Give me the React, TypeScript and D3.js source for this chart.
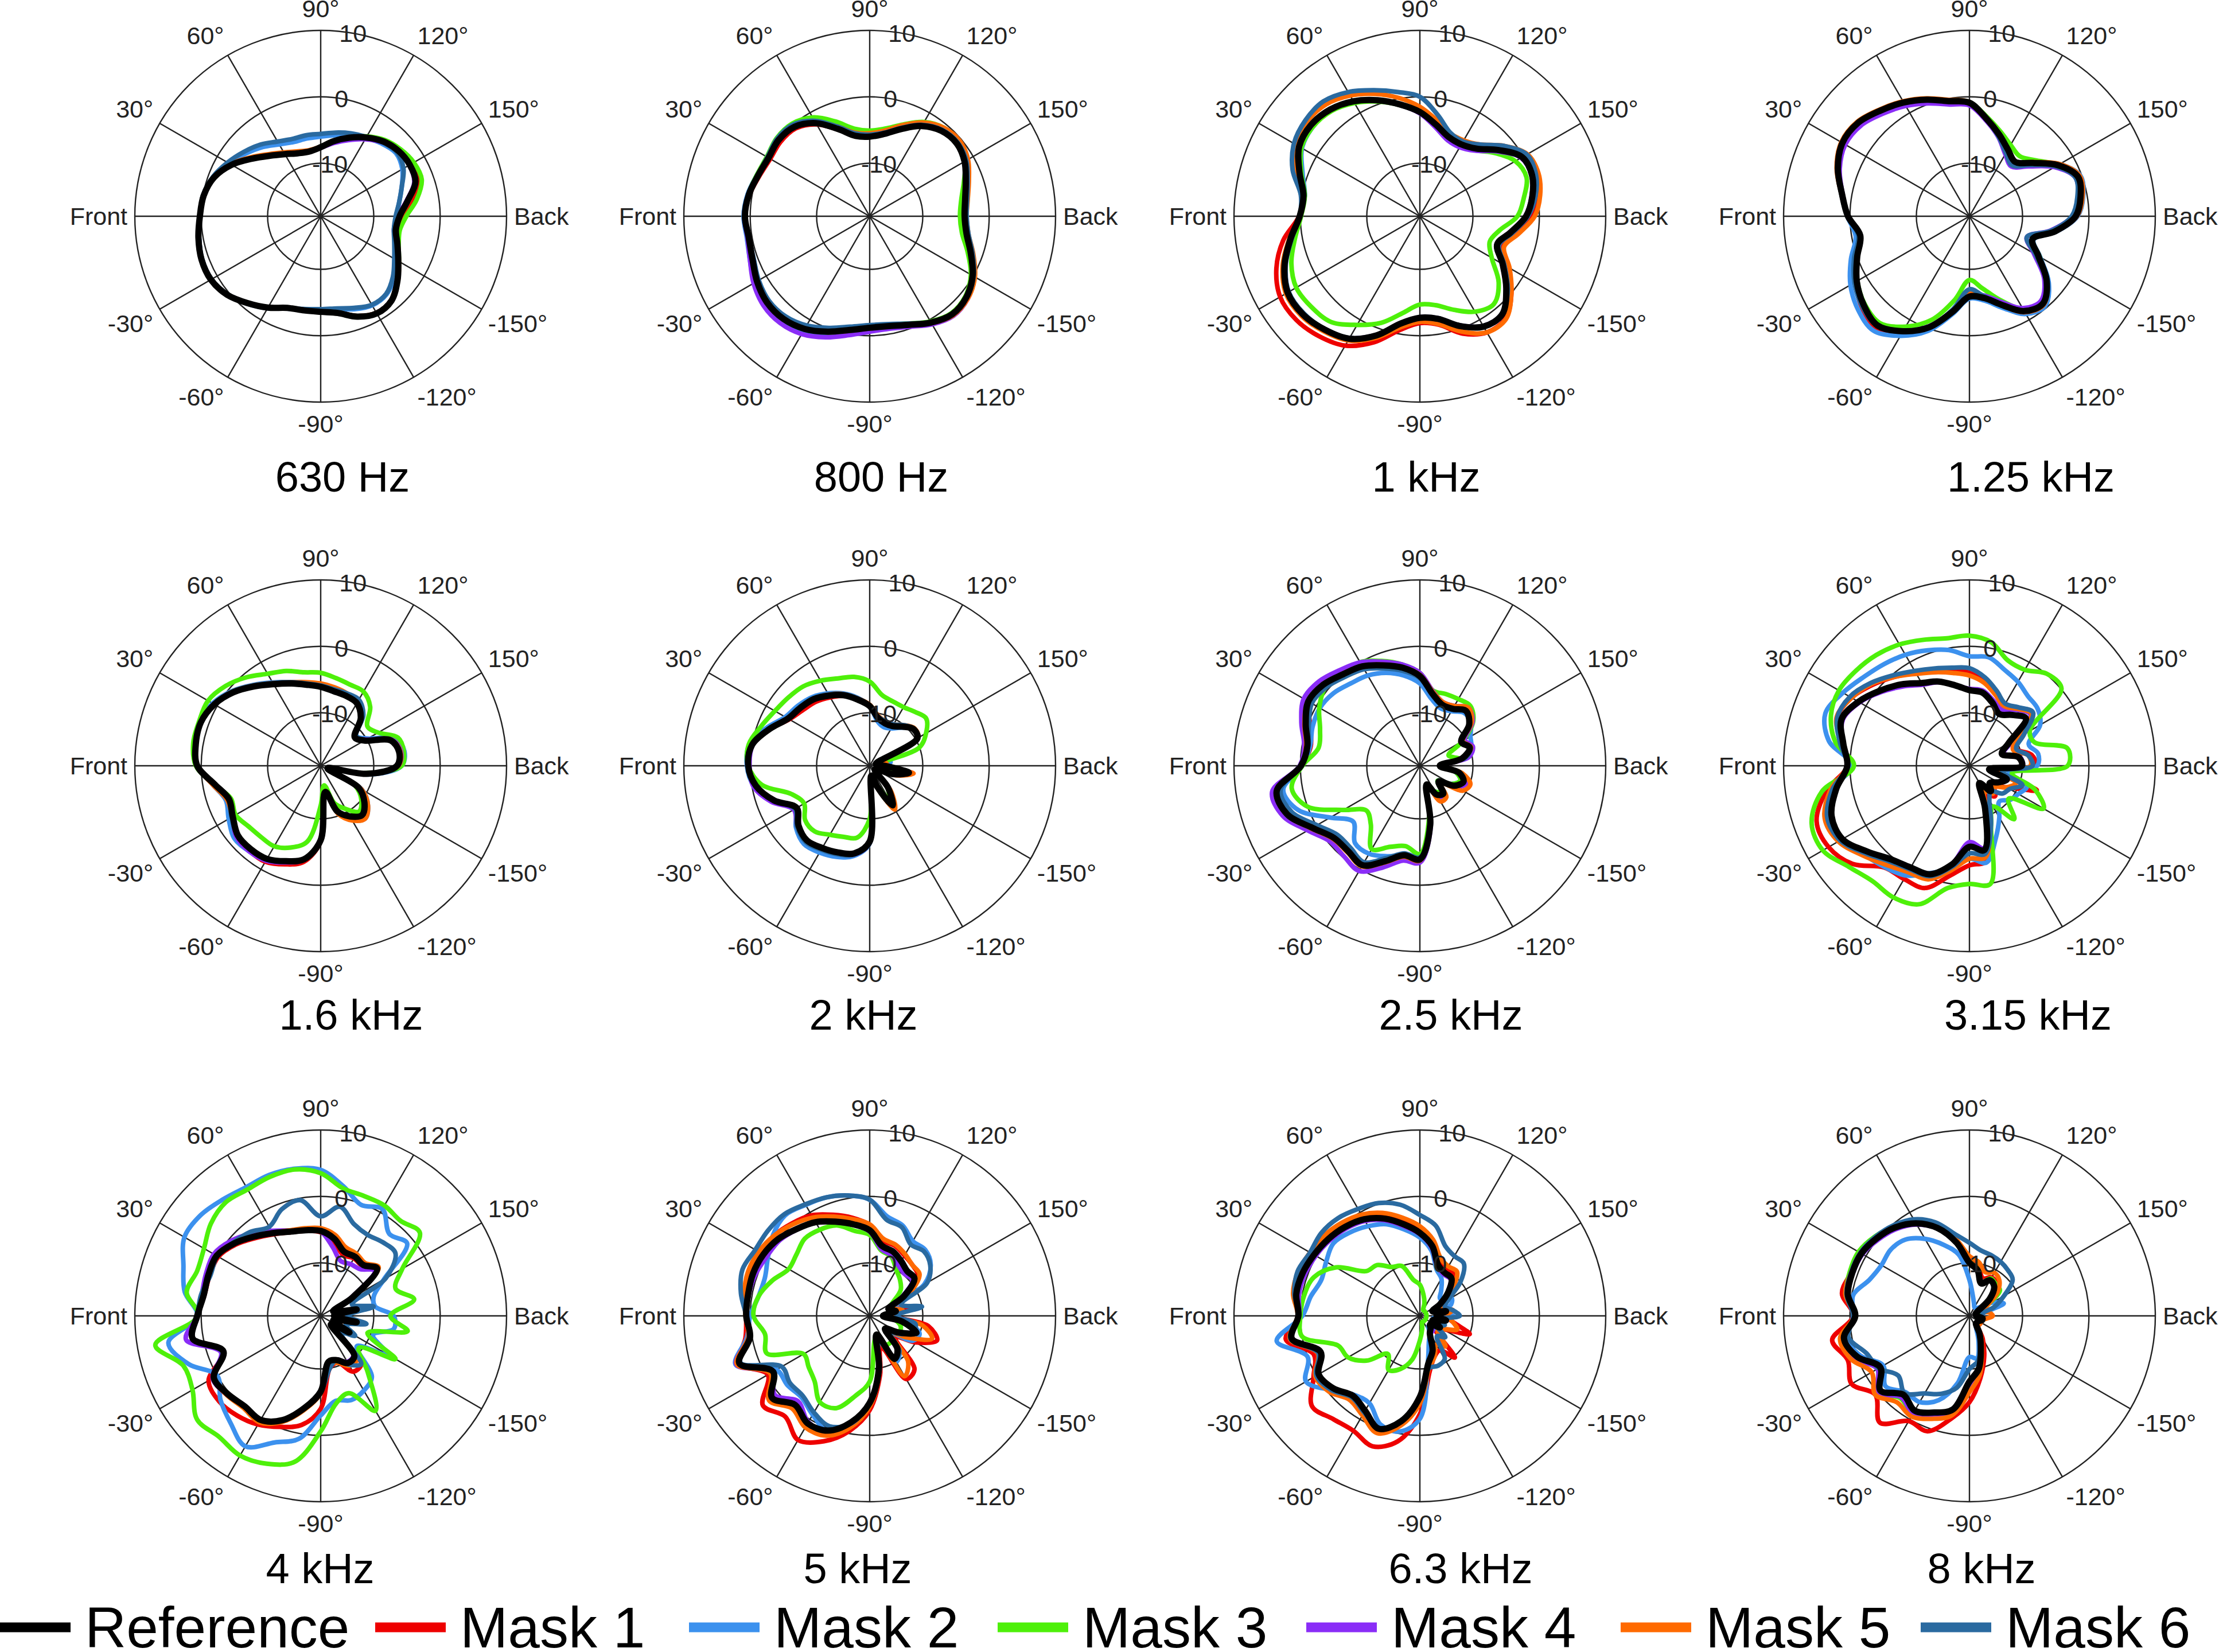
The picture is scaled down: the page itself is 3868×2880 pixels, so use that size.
import * as d3 from "d3";

// ---- layout (px) ----
const W = 3868;
const H = 2880;
const R = 324;
const colX = [559, 1516, 2475, 3433];
const rowY = [377, 1335, 2294];
const titleX = [597, 1536, 2486, 3540, 612, 1505, 2529, 3535, 558, 1495, 2546, 3454];
const titleY = [831, 1769, 2734];
const FONT = "'Liberation Sans', Arial, Helvetica, sans-serif";

// ---- axes ----
const angles = [
  0, 10, 20, 30, 40, 50, 60, 70, 80, 90, 100, 110, 120, 130, 140, 150, 160, 170,
  180, 190, 200, 210, 220, 230, 240, 250, 260, 270, 280, 290, 300, 310, 320, 330, 340, 350,
];
const spokeAngles = [0, 30, 60, 90, 120, 150];
const tickAngles = [0, 30, 60, 90, 120, 150, 180, 210, 240, 270, 300, 330];
const tickLabels = ["Front", "30°", "60°", "90°", "120°", "150°", "Back", "-150°", "-120°", "-90°", "-60°", "-30°"];
const ringValues = [-10, 0, 10];
const ringLabelAngle = 100;
const radialDomain = [-18, 10];

const titles = [
  "630 Hz", "800 Hz", "1 kHz", "1.25 kHz",
  "1.6 kHz", "2 kHz", "2.5 kHz", "3.15 kHz",
  "4 kHz", "5 kHz", "6.3 kHz", "8 kHz",
];
const seriesNames = ["Reference", "Mask 1", "Mask 2", "Mask 3", "Mask 4", "Mask 5", "Mask 6"];
const seriesColors = ["#000000", "#ee0000", "#3c91ee", "#4ef00a", "#8a2df7", "#ff6a00", "#2a6aa0"];
const legendX = [0, 654, 1201, 1739, 2277, 2825, 3348];

// ---- data, dB at angles[] ----
const ref630 = [0.2,-0.1,-0.9,-2.5,-4.5,-6.1, -7.2,-7.9,-8.1,-7.6,-6.5,-5.4, -4.3,-3.3,-2.7,-2.5,-2.8,-4.7, -6.1,-6.5,-5.7,-4.5,-2.9,-1.4, -1.1,-1.9,-3.2,-3.6,-3.6,-3.3, -2.1,-0.9,0.4,1.1,1.1,0.7];
const m1_630 = [0.2,-0.1,-0.9,-2.5,-4.4,-6.0, -7.1,-7.8,-8.0,-7.6,-6.5,-5.4, -4.2,-3.2,-2.5,-2.1,-2.3,-4.0, -5.6,-6.2,-5.6,-4.5,-2.9,-1.5, -1.2,-2.0,-3.3,-3.7,-3.6,-3.3, -2.1,-0.9,0.4,1.1,1.1,0.7];
const m2_630 = [0.2,0.0,-0.8,-2.0,-3.3,-4.4, -5.5,-6.1,-6.1,-6.0,-5.6,-5.0, -4.4,-3.7,-3.2,-3.8,-5.0,-6.0, -6.6,-6.7,-6.0,-5.0,-3.6,-2.6, -2.5,-3.1,-3.8,-3.9,-3.7,-3.2, -2.0,-0.8,0.4,1.0,1.0,0.6];
const m3_630 = [0.2,-0.1,-0.8,-2.4,-4.4,-6.0, -7.1,-7.8,-8.0,-7.5,-6.4,-5.3, -4.1,-3.0,-2.3,-1.8,-1.8,-3.3, -5.1,-5.9,-5.5,-4.4,-2.9,-1.5, -1.2,-2.0,-3.3,-3.7,-3.6,-3.3, -2.1,-0.9,0.4,1.1,1.1,0.7];
const m4_630 = [0.2,-0.1,-0.9,-2.5,-4.5,-6.1, -7.2,-7.9,-8.1,-7.7,-6.8,-5.8, -4.6,-3.5,-2.8,-2.6,-3.0,-4.9, -6.4,-6.8,-5.9,-4.6,-3.0,-1.5, -1.2,-2.0,-3.3,-3.7,-3.6,-3.3, -2.1,-0.9,0.4,1.1,1.1,0.7];
const m5_630 = [0.2,-0.1,-0.8,-2.3,-4.2,-5.8, -6.9,-7.6,-7.9,-7.5,-6.5,-5.4, -4.3,-3.3,-2.7,-2.5,-2.7,-4.5, -5.9,-6.4,-5.6,-4.4,-2.8,-1.4, -1.2,-2.0,-3.3,-3.7,-3.6,-3.3, -2.1,-0.9,0.4,1.1,1.1,0.7];
const m6_630 = [0.2,0.0,-0.7,-1.8,-2.9,-3.9, -5.0,-5.6,-5.6,-5.6,-5.2,-4.7, -4.2,-3.5,-3.0,-3.6,-5.0,-6.0, -6.7,-6.8,-6.2,-5.2,-3.8,-2.7, -2.6,-3.3,-3.9,-4.0,-3.8,-3.3, -2.1,-0.9,0.3,1.0,1.0,0.6];

const ref800 = [0.8,0.5,-0.1,-0.4,-0.1,-0.4, -1.8,-4.0,-5.7,-6.0,-5.4,-4.0, -2.3,-1.2,-0.9,-1.5,-2.6,-3.4, -3.7,-3.2,-1.8,-0.1,1.0,1.3, 0.5,-0.6,-1.2,-1.2,-0.6,0.5, 1.6,2.2,2.2,1.6,0.8,0.5];
const m1_800 = [0.8,0.4,-0.3,-0.7,-0.5,-0.7, -2.0,-4.1,-5.7,-6.0,-5.4,-4.0, -2.3,-1.2,-0.9,-1.4,-2.4,-3.2, -3.5,-3.0,-1.6,0.0,1.1,1.4, 0.6,-0.5,-1.1,-1.1,-0.5,0.6, 1.7,2.3,2.3,1.7,0.9,0.5];
const m2_800 = [1.0,0.7,0.1,-0.2,0.0,-0.3, -1.7,-3.9,-5.6,-5.9,-5.3,-3.9, -2.2,-1.1,-0.8,-1.4,-2.5,-3.3, -3.6,-3.1,-1.7,0.0,1.0,1.2, 0.4,-0.7,-1.2,-1.1,-0.3,0.9, 2.1,2.7,2.7,2.1,1.2,0.8];
const m3_800 = [0.8,0.6,0.1,-0.1,0.3,0.2, -0.8,-2.8,-4.6,-5.1,-4.6,-3.3, -1.6,-0.6,-0.5,-1.4,-2.9,-4.0, -4.4,-3.9,-2.3,-0.4,0.8,1.1, 0.3,-0.8,-1.4,-1.4,-0.8,0.3, 1.4,2.0,2.0,1.5,0.8,0.5];
const m4_800 = [0.9,0.6,0.0,-0.3,0.1,-0.2, -1.6,-3.9,-5.6,-5.9,-5.3,-3.9, -2.2,-1.1,-0.8,-1.4,-2.5,-3.3, -3.6,-3.0,-1.5,0.2,1.3,1.6, 0.8,-0.3,-0.8,-0.6,0.2,1.4, 2.5,3.0,2.9,2.2,1.2,0.7];
const m5_800 = [0.8,0.5,-0.1,-0.3,0.1,-0.2, -1.5,-3.6,-5.2,-5.5,-4.9,-3.4, -1.7,-0.6,-0.3,-0.9,-2.1,-3.0, -3.4,-2.9,-1.4,0.3,1.3,1.5, 0.6,-0.5,-1.1,-1.1,-0.5,0.6, 1.6,2.2,2.2,1.6,0.8,0.5];
const m6_800 = [0.9,0.6,0.0,-0.2,0.2,0.0, -1.4,-3.6,-5.3,-5.7,-5.2,-3.8, -2.1,-1.0,-0.7,-1.2,-2.3,-3.1, -3.4,-2.9,-1.5,0.1,1.1,1.3, 0.4,-0.8,-1.5,-1.6,-1.1,-0.1, 1.0,1.7,1.8,1.3,0.6,0.5];

const ref1000 = [0.1,-0.2,1.3,3.0,3.4,3.0, 2.0,0.6,-0.9,-2.3,-4.0,-5.3, -5.5,-4.7,-2.5,-0.2,0.0,-0.8, -2.0,-4.1,-5.6,-3.6,-1.0,1.3, 1.2,-0.4,-2.3,-2.7,-1.6,1.1, 3.3,4.3,5.0,5.0,3.7,1.8];
const m1_1000 = [0.2,-0.2,1.2,2.9,3.3,2.9, 1.9,0.5,-1.0,-2.4,-4.0,-5.2, -5.4,-4.5,-2.3,0.1,0.5,-0.1, -1.2,-3.3,-4.8,-2.7,0.0,2.1, 2.2,0.8,-1.4,-1.9,-0.6,2.2, 4.5,5.6,6.3,6.3,5.0,2.9];
const m2_1000 = [0.1,-0.4,0.8,2.5,3.0,2.8, 1.8,0.5,-1.0,-2.4,-4.1,-5.4, -5.6,-4.8,-2.6,-0.3,-0.1,-0.9, -2.1,-4.2,-5.7,-3.7,-1.1,1.2, 1.1,-0.5,-2.4,-2.8,-1.7,1.0, 3.2,4.2,4.9,4.9,3.6,1.7];
const m3_1000 = [-0.1,-0.4,1.0,2.6,3.0,2.7, 1.7,0.4,-1.0,-2.4,-4.0,-5.3, -5.6,-5.0,-3.2,-1.4,-0.9,-2.1, -3.3,-5.8,-6.8,-5.5,-2.5,-0.7, -1.4,-3.0,-4.4,-4.7,-3.2,-0.9, 0.9,2.8,3.3,3.5,2.6,1.1];
const m4_1000 = [0.1,-0.2,1.2,2.9,3.3,3.0, 2.0,0.6,-1.0,-2.5,-4.4,-5.8, -6.0,-5.1,-2.8,-0.4,-0.1,-0.9, -2.1,-4.2,-5.7,-3.7,-1.1,1.2, 1.1,-0.5,-2.4,-2.8,-1.7,1.0, 3.2,4.3,4.9,4.9,3.6,1.7];
const m5_1000 = [0.1,0.0,1.9,3.7,4.2,4.0, 3.0,1.6,0.1,-1.5,-3.3,-4.7, -4.8,-3.9,-1.5,0.7,1.0,0.4, -0.7,-2.9,-4.5,-2.4,0.0,2.2, 2.2,0.5,-1.5,-2.1,-1.0,1.5, 3.6,4.6,5.3,5.3,4.0,2.0];
const m6_1000 = [0.1,0.2,2.4,3.9,4.5,4.6, 3.6,2.2,1.0,0.0,-2.5,-4.6, -5.0,-3.9,-1.5,0.6,0.6,-0.3, -1.7,-3.8,-5.3,-3.3,-0.7,1.3, 1.2,-0.4,-2.2,-2.6,-1.6,1.1, 3.2,4.2,4.8,4.8,3.5,1.6];

const ref1250 = [0.3,1.5,3.1,4.1,3.9,2.8, 1.8,0.7,-0.4,-0.9,-3.1,-4.9, -6.4,-7.3,-5.5,-2.6,-0.6,-1.0, -2.0,-4.9,-7.9,-6.0,-2.8,-0.8, -1.5,-3.8,-5.5,-5.9,-3.4,-0.2, 2.0,3.5,2.8,1.6,0.0,-1.3];
const m1_1250 = [0.3,1.5,3.1,4.1,3.9,2.8, 1.8,0.7,-0.4,-0.9,-3.1,-4.9, -6.4,-7.3,-5.5,-2.6,-0.6,-1.0, -2.0,-4.9,-7.8,-5.9,-2.7,-0.7, -1.4,-3.7,-5.4,-5.8,-3.2,0.1, 2.4,3.9,3.2,1.8,0.1,-1.3];
const m2_1250 = [0.4,1.6,3.2,4.1,3.9,2.8, 1.8,0.7,-0.4,-0.9,-3.0,-4.8, -6.3,-7.2,-5.3,-2.3,-0.2,-0.6, -1.7,-4.7,-7.7,-5.7,-2.4,-0.3, -1.0,-3.3,-5.1,-5.6,-3.0,0.4, 2.8,4.5,3.9,2.7,1.0,-0.6];
const m3_1250 = [0.3,1.5,3.1,4.1,3.9,2.8, 1.8,0.7,-0.3,-0.8,-2.8,-4.4, -5.6,-6.2,-4.9,-2.5,-0.6,-1.1, -2.1,-5.0,-7.8,-5.8,-2.8,-1.0, -1.9,-4.6,-7.0,-8.4,-5.2,-1.4, 1.2,3.0,2.6,1.5,0.0,-1.2];
const m4_1250 = [0.3,1.4,2.8,3.6,3.3,2.2, 1.2,0.1,-0.9,-1.3,-3.4,-5.3, -7.2,-8.2,-6.3,-3.2,-1.0,-1.4, -2.5,-5.6,-8.8,-6.8,-3.3,-1.3, -2.0,-4.3,-5.9,-6.2,-3.6,-0.4, 1.9,3.4,2.8,1.6,0.0,-1.3];
const m5_1250 = [0.3,1.6,3.3,4.3,4.1,3.0, 2.0,0.9,-0.2,-0.8,-3.0,-4.8, -6.3,-7.2,-5.3,-2.3,-0.3,-0.7, -1.8,-4.8,-7.8,-5.9,-2.7,-0.6, -1.3,-3.7,-5.6,-6.5,-3.6,-0.2, 2.0,3.5,2.8,1.6,0.0,-1.3];
const m6_1250 = [0.4,1.6,3.2,4.1,3.9,2.8, 1.8,0.7,-0.4,-0.9,-3.2,-5.2, -7.0,-8.0,-6.0,-3.0,-1.0,-1.5, -2.6,-5.5,-8.8,-6.5,-3.0,-0.9, -1.6,-3.9,-5.8,-7.0,-3.8,-0.2, 2.1,3.6,3.1,2.0,0.5,-1.0];

const ref1600 = [0.6,1.1,1.2,0.5,-0.8,-2.4, -3.8,-4.8,-5.6,-6.1,-6.6,-6.8, -7.1,-8.6,-11.3,-10.4,-6.8,-6.0, -6.5,-11.0,-16.9,-11.4,-9.4,-8.3, -9.2,-10.7,-14.0,-6.8,-3.7,-2.7, -1.8,-1.6,-1.7,-2.7,-3.3,-1.8];
const m1_1600 = [0.6,1.1,1.2,0.5,-0.8,-2.4, -3.8,-4.8,-5.6,-6.1,-6.6,-6.8, -7.1,-8.6,-11.3,-10.4,-6.8,-6.0, -6.5,-11.0,-16.9,-11.4,-9.4,-8.3, -9.2,-10.7,-14.0,-6.6,-3.3,-2.2, -1.3,-1.3,-1.6,-2.7,-3.3,-1.8];
const m2_1600 = [0.7,1.3,1.4,0.8,-0.5,-2.1, -3.5,-4.6,-5.4,-5.9,-6.4,-6.6, -6.8,-8.3,-11.0,-9.8,-6.0,-5.2, -5.8,-10.5,-16.5,-10.8,-8.7,-7.6, -8.6,-10.4,-14.0,-6.8,-3.7,-2.6, -1.6,-1.2,-1.0,-2.0,-2.8,-1.5];
const m3_1600 = [0.8,1.5,1.5,1.6,0.7,-0.6, -2.0,-2.8,-3.7,-4.0,-4.6,-5.0, -5.1,-6.4,-8.8,-8.0,-5.6,-5.3, -5.8,-11.5,-17.0,-12.0,-10.0,-9.0, -10.5,-12.0,-15.0,-12.0,-6.4,-4.9, -4.0,-4.0,-3.8,-3.2,-3.6,-1.7];
const m4_1600 = [0.6,1.1,1.3,0.6,-0.7,-2.3, -3.7,-4.7,-5.5,-6.0,-6.5,-6.7, -7.0,-8.5,-11.2,-10.1,-6.5,-5.7, -6.3,-10.9,-16.9,-11.2,-9.1,-8.0, -9.0,-10.6,-14.0,-6.8,-3.6,-2.5, -1.5,-1.2,-1.4,-2.6,-3.3,-1.8];
const m5_1600 = [0.6,1.1,1.2,0.6,-0.6,-2.2, -3.6,-4.6,-5.2,-5.6,-6.0,-6.4, -6.9,-8.5,-11.3,-10.3,-6.6,-5.8, -6.3,-10.8,-16.5,-10.9,-8.7,-7.6, -8.5,-10.3,-14.0,-6.8,-3.7,-2.7, -1.8,-1.6,-1.7,-2.6,-3.0,-1.5];
const m6_1600 = [0.6,1.2,1.3,0.6,-0.6,-2.2, -3.6,-4.6,-5.4,-5.9,-6.3,-6.4, -6.5,-8.0,-11.0,-10.2,-6.6,-5.9, -6.4,-11.0,-16.8,-11.2,-9.3,-8.2, -9.1,-10.6,-14.0,-6.8,-3.7,-2.7, -1.8,-1.6,-1.6,-2.5,-3.2,-1.8];

const ref2000 = [0.3,0.0,-1.9,-3.8,-4.4,-4.9, -5.8,-6.7,-7.9,-9.0,-10.7,-11.2, -11.1,-10.3,-9.4,-9.7,-17,-17, -15.8,-12,-14.3,-17,-17,-13.7, -11.1,-14.6,-16.5,-6.6,-4.6,-4.1, -3.7,-3.3,-4.0,-5.3,-2.7,-0.6];
const m1_2000 = [0.3,0.0,-1.9,-4.0,-4.9,-5.4, -6.1,-6.8,-7.9,-9.0,-10.7,-11.2, -11.1,-10.3,-9.4,-9.7,-17,-17, -15.8,-12,-14.3,-17,-17,-13.7, -11.1,-14.6,-16.5,-6.6,-4.5,-4.0, -3.6,-3.2,-4.0,-5.3,-2.7,-0.6];
const m2_2000 = [0.5,0.4,-1.4,-3.3,-3.9,-4.5, -5.4,-6.4,-7.6,-9.0,-11.2,-11.8, -11.5,-10.5,-9.4,-9.8,-17,-14.8, -15.5,-11.5,-14,-17,-17,-13.3, -10.7,-14.3,-16.5,-6.3,-4.2,-3.4, -2.9,-2.6,-3.5,-5.0,-2.5,-0.3];
const m3_2000 = [0.3,0.5,-0.6,-1.5,-2.0,-2.4, -3.2,-4.0,-4.4,-5.3,-7.2,-7.7, -7.8,-7.4,-6.9,-8.2,-10.1,-17, -16,-13,-15,-17,-17,-14, -12,-15,-16.5,-10,-7.0,-6.6, -6.0,-5.1,-5.3,-6.6,-5.5,-1.5];
const m4_2000 = [0.1,-0.1,-1.9,-3.8,-4.4,-4.9, -5.8,-6.7,-7.9,-9.0,-10.6,-11.1, -11.0,-10.2,-9.4,-9.8,-17,-17, -15.8,-12.3,-14.5,-17,-17,-13.5, -10.9,-14.5,-16.5,-6.4,-4.4,-3.9, -3.6,-3.1,-3.7,-4.8,-2.2,-0.2];
const m5_2000 = [0.3,0.0,-1.8,-3.7,-4.3,-4.8, -5.6,-6.5,-7.7,-8.8,-10.4,-10.9, -10.8,-10.0,-9.2,-9.6,-17,-15.5, -15.3,-11.3,-13.8,-17,-17,-13.0, -10.4,-14.2,-16.5,-6.6,-4.6,-4.1, -3.7,-3.3,-4.0,-5.3,-2.7,-0.6];
const m6_2000 = [0.3,0.1,-1.7,-3.6,-4.2,-4.7, -5.6,-6.5,-7.7,-8.9,-10.5,-10.9, -10.8,-10.0,-9.3,-9.6,-17,-17, -15.8,-12.0,-14.3,-17,-17,-13.6, -11.0,-14.6,-16.5,-6.5,-4.4,-3.8, -3.4,-3.0,-3.7,-5.0,-2.6,-0.5];

const ref2500 = [-0.1,-0.8,0.3,1.4,1.0,0.0, -0.7,-1.9,-3.0,-4.5,-7.0,-8.2, -8.1,-7.2,-8.3,-10.8,-10.0,-11.5, -15.0,-12.0,-11.0,-12.0,-14.3,-12.5, -13.0,-15.0,-9.0,-3.9,-4.3,-2.7, -0.7,-1.2,-1.1,0.7,3.3,3.9];
const m1_2500 = [-0.1,-1.3,-0.4,1.2,1.0,0.0, -0.7,-1.9,-3.0,-4.6,-7.1,-8.2, -8.1,-7.2,-8.3,-10.8,-10,-11.5, -15,-12,-11,-12,-14.3,-12.5, -13,-15,-8.8,-3.5,-4.0,-2.5, -0.6,-1.1,-1.0,0.8,3.4,4.1];
const m2_2500 = [-0.3,-1.2,-0.8,-0.6,-1.0,-1.8, -2.3,-3.1,-4.2,-5.6,-7.8,-8.8, -8.5,-7.6,-8.0,-9.2,-9.8,-11.5, -15,-12.5,-11.5,-12.5,-14.5,-13, -13.5,-15,-9.5,-4.5,-4.3,-3.5, -2.7,-2.8,-4.9,-2.4,1.5,2.9];
const m3_2500 = [-0.3,-2.5,-2.0,-0.5,0.5,0.0, 0.0,-1.2,-2.5,-4.0,-6.5,-6.5, -6.4,-6.2,-7.5,-10.5,-13.4,-12, -15,-12.5,-11.5,-12.5,-14.5,-13, -13.5,-15,-10,-4.7,-5.7,-5.0, -3.5,-6.5,-7.5,-4.7,0.0,1.6];
const m4_2500 = [0.1,-0.3,1.0,2.2,1.8,0.8, 0.0,-1.3,-2.5,-4.0,-6.6,-7.8, -7.6,-6.6,-7.6,-10.2,-9.5,-10.5, -14.5,-12.0,-10.5,-11.5,-14,-12.2, -12.6,-14.8,-8.6,-3.4,-3.5,-1.7, 0.3,-0.2,-0.3,1.5,4.0,4.6];
const m5_2500 = [-0.1,-0.6,0.5,1.5,1.1,0.1, -0.6,-1.8,-2.9,-4.3,-6.7,-7.8, -7.6,-6.6,-7.8,-10.5,-9.8,-11.2, -14.5,-11.5,-9.9,-10.5,-14,-11.8, -11.8,-14.8,-8.8,-3.7,-4.1,-2.5, -0.5,-1.0,-0.9,0.9,3.4,4.0];
const m6_2500 = [-0.1,-0.9,-0.2,0.8,0.4,-0.5, -1.2,-2.4,-3.5,-4.8,-7.2,-8.3, -8.2,-7.3,-8.3,-10.6,-9.9,-11, -15,-11.8,-11,-12,-14.3,-12.5, -13,-15,-9.2,-4.2,-4.6,-3.2, -1.2,-1.8,-1.8,-0.1,2.5,3.3];

const ref3150 = [0.4,1.3,2.5,1.3,-0.4,-2.0, -3.6,-4.5,-5.7,-6.6,-6.8,-7.9, -9.0,-8.0,-6.9,-11.2,-12.8,-10.5, -10.1,-15,-12,-13,-14,-13, -15,-11.1,-5.1,-5.8,-2.9,-0.6, -0.3,0.4,2.1,4.1,4.1,2.4];
const m1_3150 = [0.4,1.5,3.2,2.5,1.0,-0.5, -1.8,-2.6,-3.3,-4.0,-5.2,-6.5, -7.5,-6.7,-5.8,-9.5,-10.5,-8.5, -8.0,-14,-7.2,-11.5,-13,-12, -13,-9,-3.4,-3.0,-1.2,1.6, 1.7,2.0,5.0,6.5,6.5,3.9];
const m2_3150 = [-0.3,3.5,5.1,4.0,2.8,2.0, 1.3,0.5,-0.3,-1.5,-1.4,-2.6, -3.4,-4.3,-4.6,-5.7,-8.5,-7.5, -7.8,-12,-8.8,-9.5,-10,-11, -9,-6.4,-3.2,-4.0,-2.3,-0.8, 1.1,1.9,2.8,4.1,4.5,3.1];
const m3_3150 = [-0.6,2.5,4.2,4.7,4.3,3.8, 3.1,2.2,1.5,1.6,0.9,-1.1, -1.3,0.1,0.1,-7.5,-7.6,-3.0, -3.2,-11.5,-7.5,-5.1,-10.3,-7.5, -10.9,-8.5,0.1,-0.2,0.7,4.2, 4.9,4.7,5.7,7.5,7.3,4.6];
const m4_3150 = [0.4,1.3,2.3,1.1,-0.7,-2.4, -3.9,-4.6,-5.7,-6.4,-6.5,-7.5, -8.2,-7.0,-6.0,-10.5,-12.5,-10.3, -10,-15,-12,-13,-14,-13, -15,-11,-5.4,-6.5,-3.0,-0.6, -0.3,0.4,2.1,4.1,4.3,3.0];
const m5_3150 = [0.4,1.6,3.3,2.5,1.2,-0.5, -2.0,-3.0,-3.8,-4.4,-5.3,-6.6, -7.6,-6.8,-5.8,-9.8,-11,-9.0, -8.8,-14,-10.5,-11.5,-13,-12.5, -13.5,-9.5,-4.0,-4.0,-2.0,0.2, 0.5,1.5,3.0,4.8,5.2,3.3];
const m6_3150 = [0.4,1.8,3.2,2.8,1.4,-0.2, -1.5,-2.4,-3.0,-3.3,-4.5,-6.0, -7.2,-6.5,-5.5,-8.5,-10.5,-9.0, -8.5,-13,-9.5,-11,-11.5,-13, -12,-8.5,-4.5,-4.8,-2.5,-0.3, 0.0,0.8,2.5,4.5,4.8,3.0];

const ref4000 = [0.6,-0.1,0.0,0.1,-1.0,-2.4, -3.6,-4.5,-4.9,-5.2,-6.2,-7.7, -7.7,-8.0,-6.9,-12.5,-16,-12.5, -16,-12.5,-16,-13,-16,-10.1, -9.8,-10.9,-11,-6.6,-3.9,-1.3, 0.1,-0.2,0.3,0.6,-2.4,1.6];
const m1_4000 = [0.6,-0.2,-0.2,-0.2,-1.3,-2.7, -3.8,-4.6,-5.0,-5.4,-6.6,-8.2, -8.0,-8.2,-7.0,-12,-15.5,-12, -15.5,-12,-15.5,-12.5,-15.5,-8.5, -8.3,-10.5,-10,-4.0,-1.3,-0.2, 0.9,1.6,2.0,1.5,-2.4,1.5];
const m2_4000 = [0.6,2.8,4.0,5.7,5.6,4.9, 4.4,4.6,4.5,4.0,1.8,-0.2, 0.6,-1.9,-1.0,-7.0,-9.5,-9.7, -7.0,-6.8,-9.6,-6.3,-10.9,-6.0, -5.0,-4.5,-5.0,-3.0,0.8,2.3, 4.7,3.1,1.7,0.0,3.2,5.3];
const m3_4000 = [0.5,2.5,1.8,2.3,3.6,4.3, 4.0,4.3,4.4,3.5,1.5,1.2, 1.2,0.7,1.5,-3.8,-6.0,-3.7, -7.5,-4.7,-10.5,-5.0,-10.5,-7.0, -1.5,-5.6,-4.6,-0.6,4.3,5.7, 6.3,5.8,6.3,4.3,4.0,7.3];
const m4_4000 = [0.6,0.2,0.4,0.6,-0.4,-1.8, -3.2,-4.3,-4.8,-5.3,-7.5,-9.2, -9.0,-8.8,-7.4,-13,-16,-13, -16,-13,-16,-13,-16,-10.3, -10,-11,-11,-6.6,-3.9,-1.2, 0.3,0.0,0.5,0.8,-2.0,2.6];
const m5_4000 = [0.6,-0.1,0.0,0.2,-0.9,-2.3, -3.5,-4.3,-4.6,-4.8,-5.6,-7.0, -7.2,-7.6,-6.6,-12,-15.5,-12, -15.5,-12,-15.5,-12.5,-15.5,-9.5, -9.3,-10.5,-10.5,-6.3,-3.6,-1.0, 0.5,0.1,0.5,0.7,-2.3,1.6];
const m6_4000 = [0.6,0.3,-0.3,0.0,-0.8,-1.5, -2.5,-0.9,-0.3,-3.0,-1.3,-3.3, -3.9,-3.5,-3.3,-6.7,-13,-9.9, -14,-11,-14,-12,-14,-8.5, -9.5,-11,-10,-6.5,-3.9,-1.3, 0.1,-0.2,0.3,0.4,-2.2,1.5];

const ref5000 = [0.6,0.6,0.7,0.5,0.0,-0.9, -1.7,-2.9,-4.0,-5.1,-7.3,-7.7, -8.5,-9.2,-9.2,-12,-15,-14, -16,-13,-10.5,-13,-15,-11.5, -10.5,-15,-10,-4.9,-1.7,0.4, 0.7,-0.5,1.2,-1.2,2.9,0.3];
const m1_5000 = [0.6,0.8,1.0,0.9,0.8,0.2, -0.5,-1.8,-3.0,-4.3,-6.5,-6.8, -7.5,-8.0,-8.5,-11,-14,-12, -14,-9,-7.2,-10,-13,-7.5, -7.0,-13,-9,-3.8,-0.4,2.1, 3.6,1.8,3.0,-0.3,3.0,1.0];
const m2_5000 = [0.0,-1.0,-1.2,-0.3,1.0,1.8, 1.3,1.0,0.4,-0.5,-2.8,-3.5, -5.0,-5.0,-6.0,-8.5,-14,-13, -15,-12,-10,-10.5,-14,-11, -10,-14,-9.5,-4.5,-1.5,0.5, -0.8,-2.0,-1.8,-1.8,3.5,0.8];
const m3_5000 = [-0.5,-1.0,-2.4,-3.9,-3.6,-2.8, -3.0,-3.5,-5.0,-5.8,-8.0,-8.5, -10,-10.9,-11.9,-14,-15,-14, -16,-14,-13,-13,-15,-13, -13,-15,-14,-8.1,-5.8,-3.2, -3.0,-5.1,-6.0,-6.5,-1.5,-2.0];
const m4_5000 = [0.6,0.5,0.3,-0.1,-0.3,-1.0, -1.8,-3.0,-4.1,-5.3,-7.8,-8.3, -9.3,-9.8,-9.6,-12.5,-15,-14, -16,-13,-11,-13,-15,-11.5, -10.5,-15,-10,-4.8,-1.5,0.5, 0.5,-1.2,0.6,-0.8,3.4,0.6];
const m5_5000 = [0.7,1.2,1.5,1.3,0.8,0.0, -0.9,-2.1,-3.2,-4.2,-6.2,-6.6, -7.3,-8.0,-8.2,-11,-14.5,-13, -15,-10,-8,-11.5,-14,-9, -7.5,-14,-9.5,-4.3,-0.9,1.2, 1.4,0.2,1.8,-0.7,3.3,0.6];
const m6_5000 = [0.6,1.7,2.4,1.9,2.0,2.0, 1.4,1.0,0.4,-0.5,-3.3,-3.8, -5.6,-5.3,-6.1,-8.0,-13,-10, -14,-11,-11,-12.5,-14,-11, -10.5,-14,-9.5,-5.0,-1.5,-0.3, -1.2,-2.3,-2.3,-2.7,2.7,0.5];

const ref6300 = [0.3,0.9,0.8,0.4,0.0,-0.5, -1.2,-2.4,-4.0,-5.5,-7.3,-9.9, -10.5,-10.6,-12.4,-14.5,-16,-14, -15.5,-14,-16,-14.5,-16,-15.5, -15,-12.4,-10.7,-5.8,-1.9,0.1, -1.5,-2.3,-1.0,-0.4,-2.1,1.6];
const m1_6300 = [0.3,1.2,1.3,0.9,0.5,0.0, -0.6,-1.7,-3.3,-4.8,-6.6,-9.2, -9.8,-10.0,-12,-14,-15,-13, -14,-13,-10,-14,-15,-9.8, -12,-11.5,-9.5,-3.2,1.2,2.9, 2.0,2.3,3.2,0.5,-1.0,2.5];
const m2_6300 = [-0.3,-1.3,-2.2,-1.7,-1.0,-1.6, -2.4,-3.3,-4.8,-6.2,-8.0,-10.6, -11.5,-13,-14,-12.5,-13,-15, -13,-16,-15,-16,-15,-16, -15,-14,-11,-2.5,-0.3,-0.6, -2.8,-2.5,-0.6,1.8,0.0,3.9];
const m3_6300 = [0.0,-0.3,-1.0,-3.4,-7.5,-8.0, -9.5,-10.0,-12.5,-13.3,-14.8,-16, -17,-17,-17,-17,-17,-17, -17,-17,-17,-17,-17,-17, -17,-17,-16,-14.3,-11.3,-9.5, -8.6,-10.5,-7.5,-5.5,-4.9,0.0];
const m4_6300 = [0.2,0.5,0.4,0.1,-0.3,-0.8, -1.5,-2.7,-4.3,-5.7,-7.6,-10.2, -10.8,-10.8,-12.6,-14.5,-16,-14.5, -15.5,-14,-16,-14.5,-16,-15, -15,-12,-10.5,-5.5,-1.5,0.3, -1.2,-2.0,-0.8,-0.2,-1.8,1.7];
const m5_6300 = [0.4,1.4,1.5,1.1,0.8,0.3, -0.4,-1.5,-3.0,-4.5,-6.4,-8.8, -9.4,-9.3,-11.5,-13.5,-15,-13, -14,-13,-12,-14,-14.5,-12, -13,-11.5,-10,-4.8,-1.2,0.8, -0.7,-1.5,-0.2,0.2,-1.6,1.9];
const m6_6300 = [0.3,1.2,1.6,1.1,1.4,1.2, 0.6,0.1,-1.0,-2.8,-4.2,-6.8, -7.6,-7.7,-10,-13,-14,-13, -12,-15,-14,-15,-13,-14, -10.5,-10,-10,-5.5,-2.0,0.0, -1.2,-2.0,-0.6,0.0,-1.7,1.8];

const ref8000 = [-0.8,0.6,0.8,0.8,0.2,-0.6, -1.9,-3.9,-6.8,-10,-11,-12.8, -11.8,-12.2,-14,-16.5,-17,-17, -17,-16,-16,-16.5,-16.5,-16.5, -15,-13,-9.9,-8.1,-3.7,-2.5, -1.5,-2.5,-0.5,-2.5,0.0,1.2];
const m1_8000 = [-0.5,1.5,1.0,1.0,0.4,-0.4, -1.6,-3.6,-6.5,-9.5,-10.5,-12, -11.3,-11.7,-13.5,-16,-16.5,-16.5, -16.5,-16,-16,-16,-16,-16, -14,-11.5,-8.5,-5.0,-2.3,0.5, 0.3,3.0,0.5,2.5,1.5,3.0];
const m2_8000 = [-0.5,-0.2,-2.0,-2.7,-2.5,-3.0, -4.6,-6.6,-8.6,-12.6,-15,-16, -16.5,-16.5,-16,-14,-12.5,-16, -16.5,-16.5,-16.5,-16.5,-16.5,-16.5, -16,-14,-11.5,-11.8,-7.7,-4.5, -3.0,-3.0,-1.5,-3.0,-0.5,0.8];
const m3_8000 = [-0.6,0.9,1.2,1.3,0.6,-0.4, -1.7,-3.8,-6.7,-9.8,-10.8,-12.5, -11.5,-11.8,-12,-15,-16,-16.5, -16.5,-16,-16,-16.5,-16.5,-16.5, -15,-12.8,-9.5,-7.5,-3.2,-2.0, -1.0,-1.8,0.0,-2.0,0.5,1.4];
const m4_8000 = [-0.6,0.7,0.7,0.6,-0.1,-0.9, -2.1,-4.0,-6.9,-10,-11,-12.5, -11.8,-12.2,-14,-16.5,-17,-17, -17,-16,-16,-16.5,-16.5,-16.5, -15,-12.8,-9.6,-7.6,-3.2,-2.0, -1.0,-2.0,0.0,-2.0,0.5,1.4];
const m5_8000 = [-0.6,1.0,1.0,1.0,0.4,-0.4, -1.6,-3.5,-6.3,-9.0,-9.8,-11, -10.5,-11,-12.5,-15,-16,-15, -14.5,-15.5,-16,-16,-16,-16, -14.5,-12.5,-9,-6.5,-2.8,-1.5, -0.5,-1.0,0.5,-1.0,1.0,1.8];
const m6_8000 = [-0.5,0.8,1.0,1.0,0.5,-0.2, -1.2,-3.0,-5.5,-7.0,-8.0,-8.3, -8.6,-9.0,-9.5,-12,-14,-16, -16,-16,-16,-16.5,-16.5,-16.5, -15,-13,-11,-10,-7,-5.5, -4.5,-2.8,-4.0,-2.2,-1.5,0.5];

// series order follows seriesNames: Reference, Mask 1..6
const panelSeries = [
  [ref630, m1_630, m2_630, m3_630, m4_630, m5_630, m6_630],
  [ref800, m1_800, m2_800, m3_800, m4_800, m5_800, m6_800],
  [ref1000, m1_1000, m2_1000, m3_1000, m4_1000, m5_1000, m6_1000],
  [ref1250, m1_1250, m2_1250, m3_1250, m4_1250, m5_1250, m6_1250],
  [ref1600, m1_1600, m2_1600, m3_1600, m4_1600, m5_1600, m6_1600],
  [ref2000, m1_2000, m2_2000, m3_2000, m4_2000, m5_2000, m6_2000],
  [ref2500, m1_2500, m2_2500, m3_2500, m4_2500, m5_2500, m6_2500],
  [ref3150, m1_3150, m2_3150, m3_3150, m4_3150, m5_3150, m6_3150],
  [ref4000, m1_4000, m2_4000, m3_4000, m4_4000, m5_4000, m6_4000],
  [ref5000, m1_5000, m2_5000, m3_5000, m4_5000, m5_5000, m6_5000],
  [ref6300, m1_6300, m2_6300, m3_6300, m4_6300, m5_6300, m6_6300],
  [ref8000, m1_8000, m2_8000, m3_8000, m4_8000, m5_8000, m6_8000],
];

const rScale = d3.scaleLinear().domain(radialDomain).range([0, R]).clamp(true);
const toRad = (deg: number) => (deg * Math.PI) / 180;

// plot angle: 0 = Front (left), 90 = top, 180 = Back (right)
const radial = d3
  .lineRadial<number>()
  .angle((_, j) => toRad(angles[j] - 90))
  .radius((v) => rScale(v))
  .curve(d3.curveCatmullRomClosed.alpha(0.5));

function Panel(props: { idx: number }) {
  const { idx } = props;
  const cx = colX[idx % 4];
  const cy = rowY[Math.floor(idx / 4)];
  const series = panelSeries[idx];
  // masks first, reference last so it sits on top
  const drawOrder = [1, 2, 3, 4, 5, 6, 0];

  return (
    <g>
      <g transform={`translate(${cx},${cy})`}>
        {ringValues.map((v) => (
          <circle key={v} r={rScale(v)} fill="none" stroke="#222" strokeWidth={2.4} />
        ))}
        {spokeAngles.map((a) => {
          const dx = -Math.cos(toRad(a)) * R;
          const dy = -Math.sin(toRad(a)) * R;
          return <line key={a} x1={-dx} y1={-dy} x2={dx} y2={dy} stroke="#222" strokeWidth={2.4} />;
        })}
        {drawOrder.map((s) => (
          <path
            key={s}
            d={radial(series[s]) || ""}
            fill="none"
            stroke={seriesColors[s]}
            strokeWidth={s === 0 ? 11 : 8}
            strokeLinejoin="round"
          />
        ))}
        {ringValues.map((v) => {
          const r = rScale(v);
          return (
            <text
              key={v}
              x={-Math.cos(toRad(ringLabelAngle)) * r}
              y={-Math.sin(toRad(ringLabelAngle)) * r}
              textAnchor="middle"
              dominantBaseline="central"
              fontSize={43}
              fill="#222"
            >
              {v}
            </text>
          );
        })}
        {tickAngles.map((a, k) => {
          const dx = -Math.cos(toRad(a));
          const dy = -Math.sin(toRad(a));
          const anchor = Math.abs(dx) < 0.01 ? "middle" : dx < 0 ? "end" : "start";
          const sy = Math.sign(Math.round(dy * 100));
          return (
            <text
              key={a}
              x={dx * R * 1.04}
              y={dy * R * 1.08 + sy * 12}
              textAnchor={anchor}
              dominantBaseline="central"
              fontSize={43}
              fill="#222"
            >
              {tickLabels[k]}
            </text>
          );
        })}
      </g>
      <text
        x={titleX[idx]}
        y={titleY[Math.floor(idx / 4)]}
        textAnchor="middle"
        dominantBaseline="central"
        fontSize={74}
        fill="#000"
      >
        {titles[idx]}
      </text>
    </g>
  );
}

export default function App() {
  const legendY = 2837;
  return (
    <svg
      width={W}
      height={H}
      viewBox={`0 0 ${W} ${H}`}
      style={{ position: "absolute", left: 0, top: 0, background: "#fff" }}
      fontFamily={FONT}
    >
      <rect width={W} height={H} fill="#fff" />
      {titles.map((_, i) => (
        <Panel key={i} idx={i} />
      ))}
      {seriesNames.map((name, i) => (
        <g key={name}>
          <line
            x1={legendX[i]}
            x2={legendX[i] + 123}
            y1={legendY}
            y2={legendY}
            stroke={seriesColors[i]}
            strokeWidth={17}
          />
          <text x={legendX[i] + 148} y={legendY} dominantBaseline="central" fontSize={100} fill="#000">
            {name}
          </text>
        </g>
      ))}
    </svg>
  );
}
